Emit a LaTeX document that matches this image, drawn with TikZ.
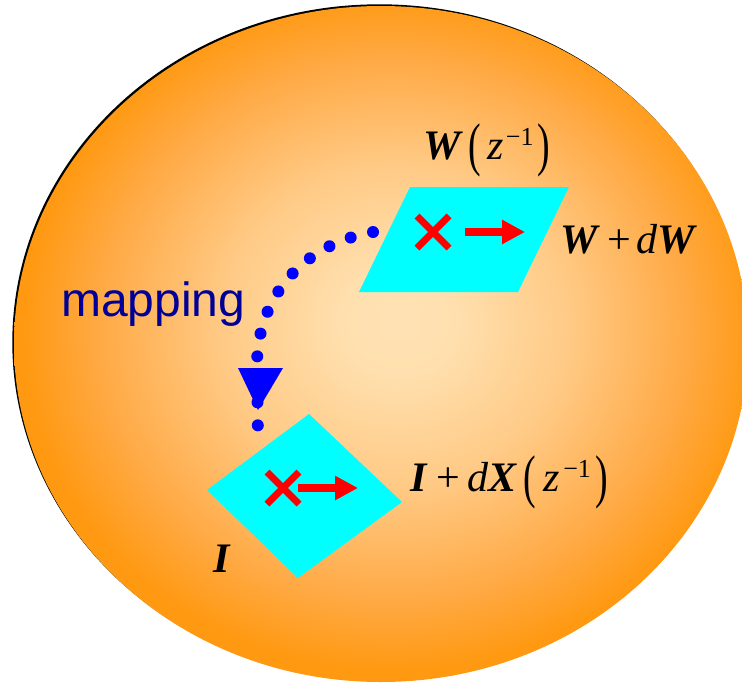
\documentclass[tikz,border=0pt]{standalone}
\usepackage{fontspec}
\setmainfont{Liberation Serif}
\newfontfamily\arialf{Liberation Sans}
\usetikzlibrary{arrows.meta}

\definecolor{cyanP}{RGB}{0,255,255}
\definecolor{redX}{RGB}{255,0,0}
\definecolor{dotBlue}{RGB}{0,0,255}
\definecolor{navyT}{RGB}{0,0,153}

\pgfdeclareradialshading{orb}{\pgfpoint{1.3bp}{1.8bp}}{%
  rgb(0bp)=(1,0.886,0.706);
  rgb(4bp)=(1,0.875,0.680);
  rgb(12bp)=(1,0.790,0.520);
  rgb(20bp)=(1,0.665,0.270);
  rgb(25bp)=(1,0.600,0.070);
  rgb(50bp)=(1,0.600,0.070)}

\newcommand\tallL{\raisebox{-5.5pt}{\scalebox{0.9}[1.4]{(}}}
\newcommand\tallR{\raisebox{-5.5pt}{\scalebox{0.9}[1.4]{)}}}
\newcommand\supm{\raisebox{14pt}{\fontsize{26}{26}\selectfont −1}}
\newcommand\bi[1]{\textbf{\textit{#1}}}

\tikzset{
  plane/.style={fill=cyanP},
  crossmark/.style={draw=redX, line width=7pt},
  shiftarrow/.style={draw=redX, line width=8pt, -{Triangle[length=23pt,width=23pt]}},
  dotline/.style={draw=dotBlue, line width=12pt, line cap=round, dash pattern=on 0pt off 23pt},
  formula/.style={anchor=base west, inner sep=0pt, font=\fontsize{42}{48}\selectfont},
  maplabel/.style={anchor=base west, inner sep=0pt, text=navyT, font=\arialf\fontsize{48}{56}\selectfont}
}

\begin{document}
\begin{tikzpicture}[x=1pt,y=-1pt]
\useasboundingbox (0,0) rectangle (742,683);

% sphere
\fill[black] (379.3,342.3) ellipse [x radius=367, y radius=338];
\shade[shading=orb] (381,344) ellipse [x radius=367, y radius=338];

% top plane
\coordinate (wa) at (410,187);
\coordinate (wb) at (569,187);
\coordinate (wc) at (518,292);
\coordinate (wd) at (359,292);
\fill[plane] (wa) -- (wb) -- (wc) -- (wd) -- cycle;

% bottom plane
\coordinate (ia) at (309,414);
\coordinate (ib) at (402,502);
\coordinate (ic) at (298,578);
\coordinate (id) at (207,490);
\fill[plane] (ia) -- (ib) -- (ic) -- (id) -- cycle;

% crosses
\draw[crossmark] (417,216) -- (449,248) (417,248) -- (449,216);
\draw[crossmark] (267,472) -- (299,504) (267,504) -- (299,472);

% red arrows
\coordinate (w0) at (465,232);
\coordinate (w1) at (525,232);
\draw[shiftarrow] (w0) -- (w1);
\coordinate (i0) at (298,488);
\coordinate (i1) at (358,488);
\draw[shiftarrow] (i0) -- (i1);

% mapping connector
\coordinate (ms) at (373,232);
\coordinate (mk) at (257,365);
\coordinate (me) at (258,440);
\draw[dotline] (ms) .. controls (300,245) and (257,300) .. (mk) -- (me);
\fill[dotBlue] (238,368) -- (283,368) -- (258,410) -- cycle;

% labels
\node[maplabel] (map) at (61,316) {mapping};
\node[formula] (wz) at (423,159) {\bi{W}\hspace{5pt}\tallL\hspace{7pt}\textit{z}\hspace{2pt}\supm\hspace{4pt}\tallR};
\node[formula] (wdw) at (560,253) {\bi{W}\hspace{7pt}+\hspace{6pt}\textit{d}\bi{W}};
\node[formula] (ilab) at (213,572) {\bi{I}};
\node[formula] (idx) at (410,491) {\bi{I}\hspace{9pt}+\hspace{7pt}\textit{d}\bi{X}\hspace{6pt}\tallL\hspace{8pt}\textit{z}\hspace{3pt}\supm\hspace{5pt}\tallR};
\end{tikzpicture}
\end{document}
